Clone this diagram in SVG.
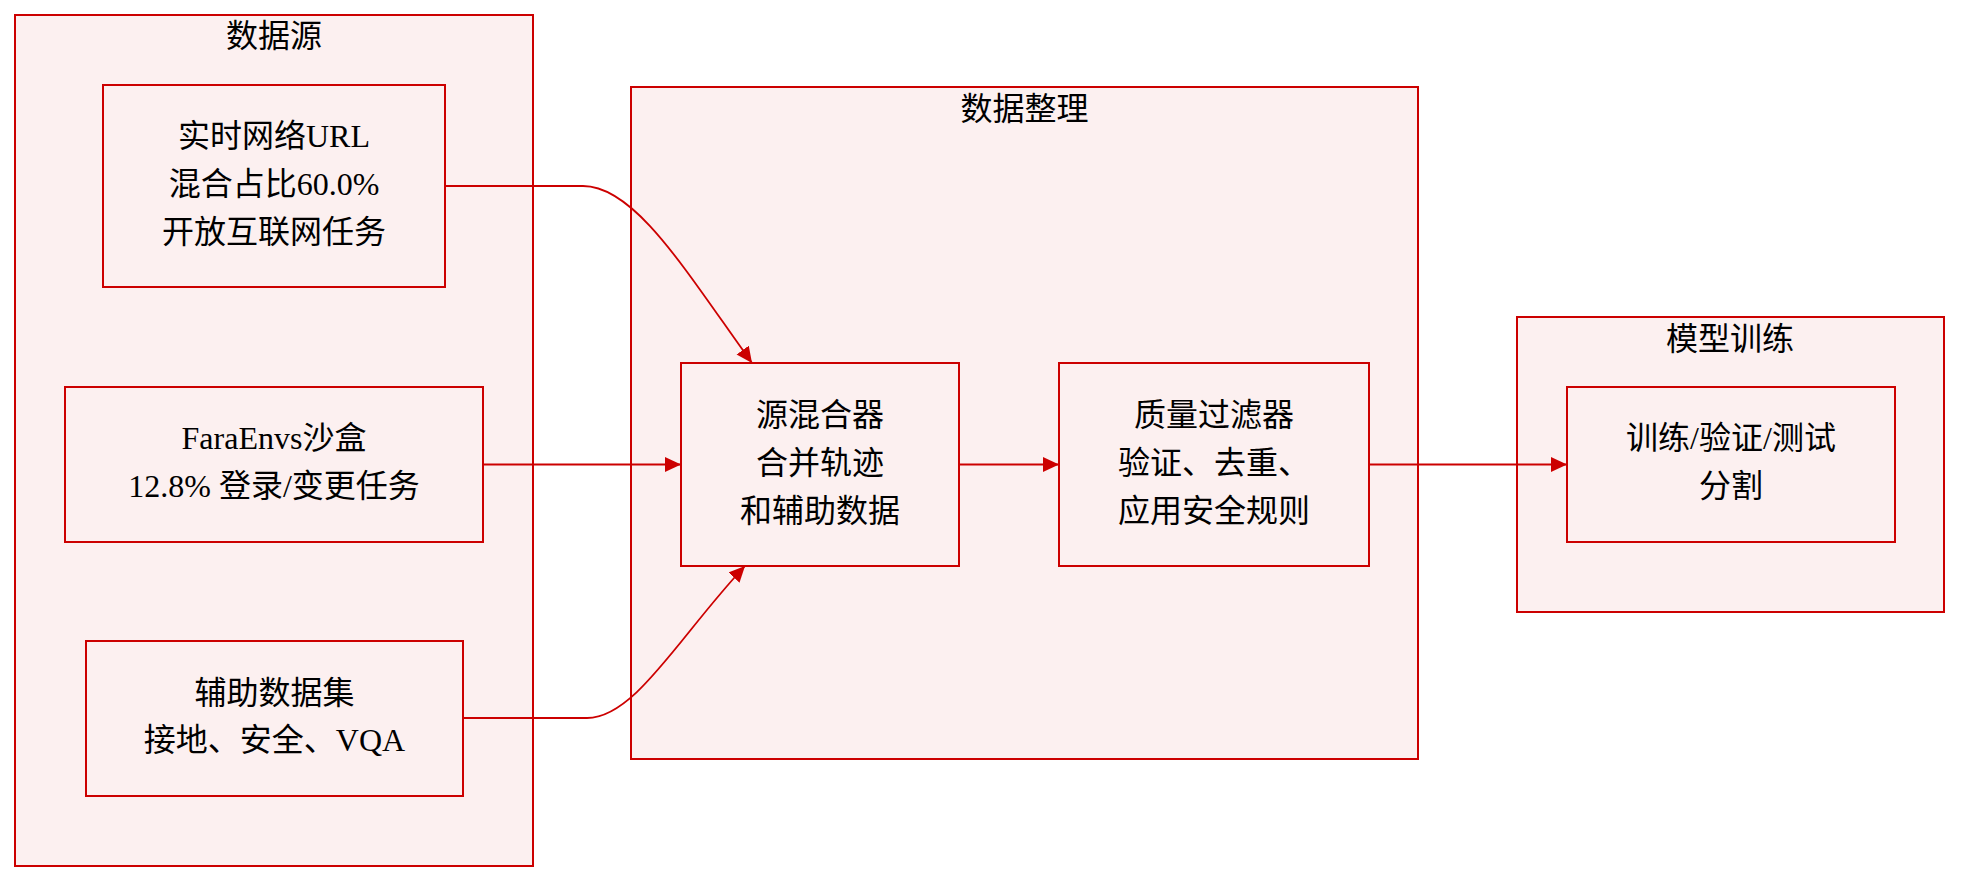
<svg xmlns="http://www.w3.org/2000/svg" width="1976" height="888" viewBox="0 0 1976 888">
<style>
  .bg { fill: #ffffff; }
  .cluster rect { fill: #fcf0f0; stroke: #cc0000; stroke-width: 2; }
  .node rect { fill: #fcf0f0; stroke: #cc0000; stroke-width: 2; }
  text { font-family: "Liberation Serif", "Noto Sans CJK SC", serif; font-size: 32px; fill: #000; text-anchor: middle; }
  .edge { fill: none; stroke: #cc0000; stroke-width: 1.8; marker-end: url(#arrow); }
</style>
<defs>
  <marker id="arrow" markerUnits="userSpaceOnUse" markerWidth="17" markerHeight="16" refX="16" refY="7.5" orient="auto">
    <path d="M0,0 L16,7.5 L0,15 z" fill="#cc0000"/>
  </marker>
</defs>
<rect class="bg" x="0" y="0" width="1976" height="888"/>

<g id="cluster-sources" class="cluster">
  <rect x="15" y="15" width="518" height="851"/>
  <text x="274" y="47">数据源</text>
</g>
<g id="cluster-curation" class="cluster">
  <rect x="631" y="87" width="787" height="672"/>
  <text x="1024.5" y="120">数据整理</text>
</g>
<g id="cluster-training" class="cluster">
  <rect x="1517" y="317" width="427" height="295"/>
  <text x="1730" y="350">模型训练</text>
</g>

<g id="connectors">
  <path class="edge" d="M445,186 L583,186 C635,186 685,270 752,363"/>
  <path class="edge" d="M483,464.5 L681,464.5"/>
  <path class="edge" d="M463,718 L587,718 C635,718 680,635 745,566"/>
  <path class="edge" d="M959,464.5 L1059,464.5"/>
  <path class="edge" d="M1369,464.5 L1567,464.5"/>
</g>

<g id="node-live-web" class="node">
  <rect x="103" y="85" width="342" height="202"/>
  <text x="274" y="147">实时网络URL</text>
  <text x="274" y="195">混合占比60.0%</text>
  <text x="274" y="243">开放互联网任务</text>
</g>
<g id="node-faraenvs" class="node">
  <rect x="65" y="387" width="418" height="155"/>
  <text x="274" y="449">FaraEnvs沙盒</text>
  <text x="274" y="497">12.8% 登录/变更任务</text>
</g>
<g id="node-aux" class="node">
  <rect x="86" y="641" width="377" height="155"/>
  <text x="274.5" y="704">辅助数据集</text>
  <text x="274.5" y="751">接地、安全、VQA</text>
</g>
<g id="node-mixer" class="node">
  <rect x="681" y="363" width="278" height="203"/>
  <text x="820" y="426">源混合器</text>
  <text x="820" y="474">合并轨迹</text>
  <text x="820" y="522">和辅助数据</text>
</g>
<g id="node-filter" class="node">
  <rect x="1059" y="363" width="310" height="203"/>
  <text x="1214" y="426">质量过滤器</text>
  <text x="1214" y="474">验证、去重、</text>
  <text x="1214" y="522">应用安全规则</text>
</g>
<g id="node-split" class="node">
  <rect x="1567" y="387" width="328" height="155"/>
  <text x="1731" y="449">训练/验证/测试</text>
  <text x="1731" y="497">分割</text>
</g>
</svg>
